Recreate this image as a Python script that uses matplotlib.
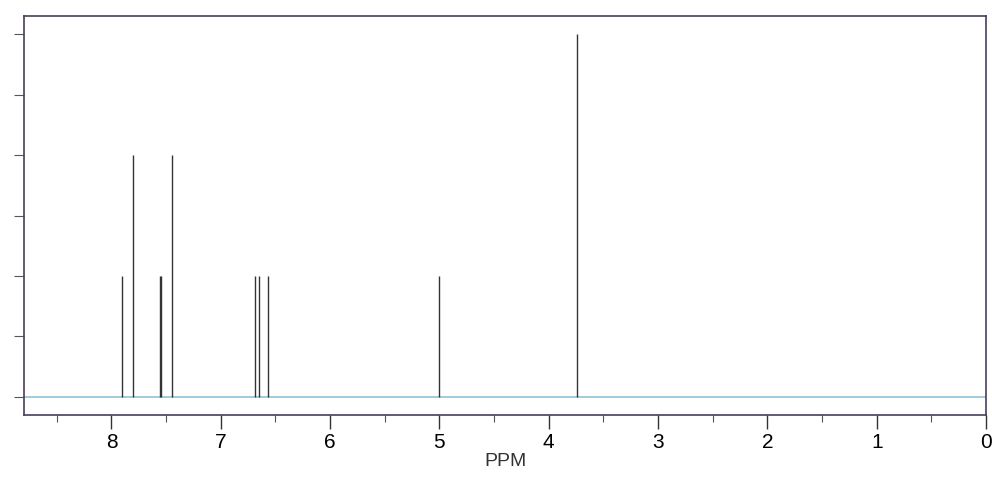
import matplotlib.pyplot as plt
from matplotlib.ticker import MultipleLocator, NullFormatter

# peak positions (ppm) and relative heights
shifts = [7.90, 7.80, 7.555, 7.545, 7.45, 6.69, 6.65, 6.57, 5.00, 3.74]
heights = [2, 4, 2, 2, 4, 2, 2, 2, 2, 6]

plt.rcParams['font.family'] = ['Liberation Sans', 'DejaVu Sans']

fig = plt.figure(figsize=(9.92, 4.78), dpi=100)
ax = fig.add_axes([0.0242, 0.1318, 0.9698, 0.8347])

ax.axhline(0, color='#8cc4d8', lw=1.2, zorder=1)
ax.vlines(shifts, 0, heights, color='#333333', lw=1.0, zorder=2)

ax.set_xlim(8.8, 0)
ax.set_ylim(-0.3, 6.3)

ax.xaxis.set_major_locator(MultipleLocator(1))
ax.xaxis.set_minor_locator(MultipleLocator(0.5))
ax.yaxis.set_major_locator(MultipleLocator(1))
ax.yaxis.set_major_formatter(NullFormatter())

ax.tick_params(axis='x', which='major', direction='out', length=10, width=1,
               color='#333333', labelsize=15, pad=3)
ax.tick_params(axis='x', which='minor', direction='out', length=5, width=0.8,
               color='#555555')
ax.tick_params(axis='y', which='major', direction='out', length=7, width=0.8,
               color='#555555')

for s in ax.spines.values():
    s.set_color('#4a3d5c')
    s.set_linewidth(1.2)

ax.set_xlabel('PPM', fontsize=14, color='#333333', labelpad=1)

plt.savefig('out.png', dpi=100)
